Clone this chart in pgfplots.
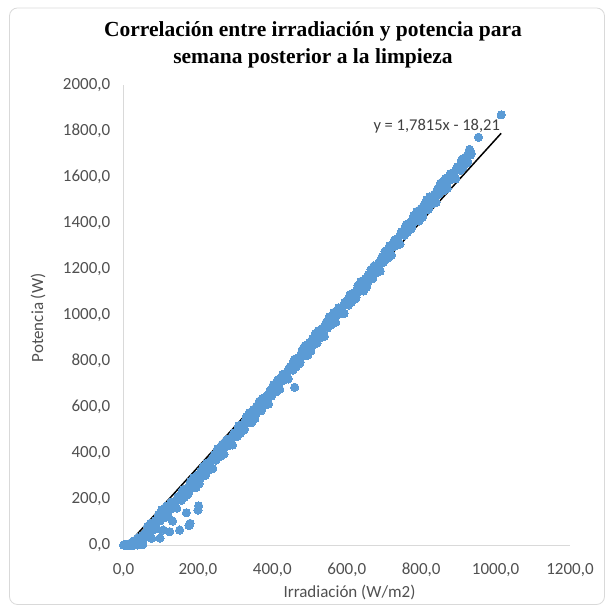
\documentclass[border=0pt]{standalone}
\usepackage{pgfplots}
\pgfplotsset{compat=1.18}
\usepackage{fontspec}
\setmainfont{Carlito}
\newfontfamily\titlefont{Liberation Serif}
\definecolor{ptblue}{HTML}{5B9BD5}
\definecolor{axgray}{HTML}{D9D9D9}
\definecolor{txtgray}{HTML}{505050}
\definecolor{eqgray}{HTML}{404040}
\begin{document}
\begin{tikzpicture}[x=1pt,y=1pt]
\path[use as bounding box] (0,0) rectangle (613,609);
\draw[axgray, rounded corners=8pt, line width=0.8pt] (9.5,4.5) rectangle (604.5,601);
\node[font=\titlefont\bfseries\fontsize{21.5}{27}\selectfont, align=center] at (313,564.5) {Correlación entre irradiación y potencia para\\semana posterior a la limpieza};
\begin{axis}[
  at={(123.5pt,64pt)}, anchor=south west,
  scale only axis, width=446.5pt, height=460pt,
  xmin=0, xmax=1200, ymin=0, ymax=2000,
  axis x line=bottom, axis y line=left,
  axis line style={axgray, line width=0.8pt, -},
  xtick={0,200,...,1200}, ytick={0,200,...,2000},
  major tick length=0pt,
  clip=false,
  tick label style={font=\fontsize{17}{19}\selectfont, text=txtgray},
  xticklabel style={anchor=base, inner sep=0pt, yshift=-30pt},
  yticklabel style={anchor=east, inner sep=0pt, xshift=-13pt},
  /pgf/number format/.cd, fixed, fixed zerofill, precision=1, use comma, 1000 sep={}, assume math mode=true
]
\addplot[only marks, mark=*, mark size=4.1pt, mark options={fill=ptblue, draw=ptblue, line width=0pt}] coordinates {
(0,0) (2,0) (4,0) (6,0) (8,0) (10,0) (12,0) (15,0) (18,0) (22,0) (26,0) (30,0) (34,2) (38,0) (42,1) (47,3) (52,2)
(76,29) (98,30) (107,65) (124,58) (132,104) (151,65) (169,140) (176,85) (179,94) (200,152) (202,170) (460,686) (954,1773) (1015,1870)
(20,9) (25,0) (30,18) (35,9) (40,22) (45,12) (50,41) (55,32) (60,48) (65,82)
(70,41) (75,78) (80,73) (85,106) (90,70) (95,131) (100,115) (105,136) (110,118) (115,169)
(120,125) (125,160) (130,184) (135,167) (140,163) (145,205) (150,204) (155,194) (160,240) (165,224)
(170,246) (175,225) (180,276) (185,255) (190,277) (195,250) (200,305) (205,284) (210,308) (215,343)
(220,302) (225,340) (230,335) (235,368) (240,333) (245,394) (250,379) (255,401) (260,385) (265,437)
(270,395) (275,430) (280,455) (285,440) (290,437) (295,481) (300,481) (305,471) (310,519) (315,503)
(320,525) (325,505) (330,557) (335,536) (340,558) (345,533) (350,588) (355,566) (360,590) (365,625)
(370,584) (375,621) (380,615) (385,648) (390,613) (395,674) (400,658) (405,681) (410,666) (415,719)
(420,677) (425,714) (430,740) (435,725) (440,723) (445,768) (450,769) (455,760) (460,808) (465,792)
(470,815) (475,795) (480,848) (485,828) (490,850) (495,825) (500,881) (505,859) (510,884) (515,918)
(520,878) (525,915) (530,909) (535,943) (540,907) (545,969) (550,953) (555,975) (560,958) (565,1011)
(570,968) (575,1003) (580,1028) (585,1012) (590,1010) (595,1053) (600,1053) (605,1043) (610,1090) (615,1075)
(620,1097) (625,1076) (630,1128) (635,1107) (640,1130) (645,1104) (650,1159) (655,1138) (660,1163) (665,1198)
(670,1158) (675,1197) (680,1192) (685,1226) (690,1191) (695,1253) (700,1238) (705,1262) (710,1247) (715,1301)
(720,1260) (725,1297) (730,1324) (735,1310) (740,1309) (745,1354) (750,1356) (755,1346) (760,1394) (765,1378)
(770,1401) (775,1380) (780,1432) (785,1412) (790,1434) (795,1409) (800,1464) (805,1442) (810,1467) (815,1501)
(820,1460) (825,1498) (830,1492) (835,1525) (840,1489) (845,1551) (850,1535) (855,1558) (860,1541) (865,1594)
(870,1551) (875,1587) (880,1612) (885,1597) (890,1594) (895,1638) (900,1638) (905,1629) (910,1678) (915,1663)
(920,1687) (925,1667) (930,1720) (935,1701)
(23,0) (28,12) (33,6) (38,30) (43,16) (48,31) (53,23) (58,52) (63,48) (68,71)
(73,95) (78,63) (83,94) (88,72) (93,123) (98,105) (103,153) (108,127) (113,152) (118,128)
(123,157) (128,186) (133,160) (138,189) (143,160) (148,212) (153,197) (158,234) (163,206) (168,230)
(173,219) (178,263) (183,250) (188,293) (193,262) (198,287) (203,266) (208,321) (213,309) (218,332)
(223,356) (228,325) (233,356) (238,335) (243,387) (248,369) (253,418) (258,393) (263,419) (268,397)
(273,427) (278,458) (283,433) (288,462) (293,435) (298,488) (303,475) (308,512) (313,484) (318,510)
(323,499) (328,543) (333,531) (338,575) (343,544) (348,569) (353,549) (358,604) (363,591) (368,613)
(373,637) (378,606) (383,637) (388,615) (393,666) (398,648) (403,697) (408,674) (413,701) (418,679)
(423,710) (428,742) (433,718) (438,748) (443,722) (448,776) (453,763) (458,801) (463,774) (468,799)
(473,789) (478,834) (483,823) (488,867) (493,836) (498,862) (503,842) (508,897) (513,884) (518,907)
(523,931) (528,900) (533,931) (538,909) (543,961) (548,943) (553,992) (558,967) (563,993) (568,970)
(573,1000) (578,1031) (583,1006) (588,1035) (593,1007) (598,1060) (603,1047) (608,1084) (613,1056) (618,1081)
(623,1070) (628,1115) (633,1103) (638,1146) (643,1115) (648,1140) (653,1120) (658,1176) (663,1164) (668,1187)
(673,1213) (678,1182) (683,1214) (688,1193) (693,1245) (698,1228) (703,1278) (708,1255) (713,1283) (718,1262)
(723,1294) (728,1326) (733,1303) (738,1334) (743,1308) (748,1363) (753,1350) (758,1387) (763,1359) (768,1385)
(773,1374) (778,1419) (783,1407) (788,1450) (793,1420) (798,1445) (803,1425) (808,1480) (813,1467) (818,1490)
(823,1514) (828,1482) (833,1513) (838,1492) (843,1543) (848,1525) (853,1574) (858,1549) (863,1576) (868,1553)
(873,1584) (878,1614) (883,1590) (888,1619) (893,1592) (898,1645) (903,1632) (908,1671) (913,1644) (918,1670)
(923,1661) (928,1706) (933,1696)
};
\addplot[black, line width=1.5pt] coordinates {(10.22,0) (1015,1790)};
\end{axis}
\node[anchor=west, text=eqgray, font=\fontsize{16.5}{18}\selectfont] at (370,483) {y = 1,7815x - 18,21};
\node[rotate=90, text=txtgray, font=\fontsize{17}{19}\selectfont] at (38,291) {Potencia (W)};
\node[text=txtgray, font=\fontsize{17}{19}\selectfont] at (349.5,17) {Irradiación (W/m2)};
\end{tikzpicture}
\end{document}
